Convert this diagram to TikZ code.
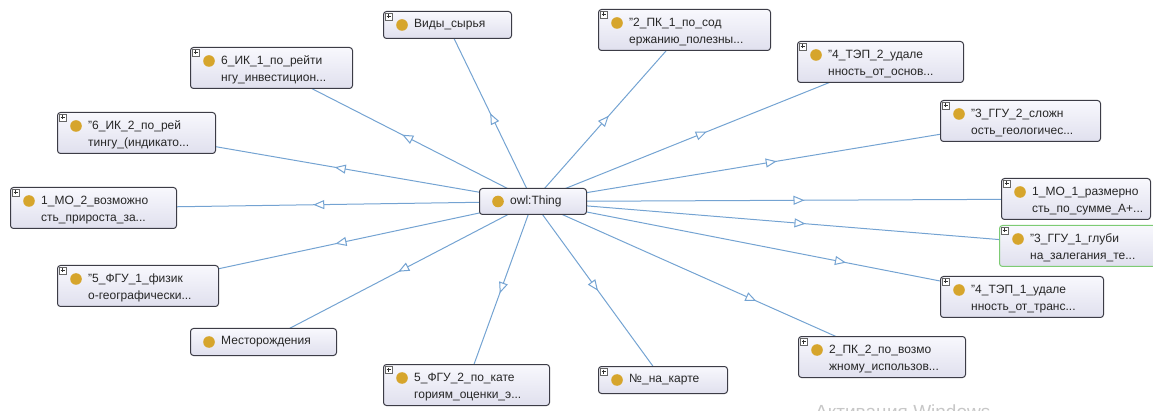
\documentclass[tikz,border=0pt]{standalone}
\usepackage{fontspec}
\setmainfont{Liberation Sans}
\usetikzlibrary{arrows.meta,decorations.markings,backgrounds,calc}
\definecolor{edgeblue}{HTML}{74A3D2}
\definecolor{boxborder}{HTML}{3C3C46}
\definecolor{owlyellow}{HTML}{D6A52C}
\definecolor{boxtop}{HTML}{F8F8FD}
\definecolor{boxbot}{HTML}{E0E0EE}
\definecolor{greenborder}{HTML}{7DCB74}
\tikzset{
  clsbox/.style={draw=boxborder, line width=1pt, rounded corners=3pt, top color=boxtop, bottom color=boxbot, inner sep=0pt},
  clstext/.style={inner sep=0pt, align=left, font=\fontsize{12}{17}\selectfont, text=black!85},
  isa/.style={draw=edgeblue, line width=1pt, postaction={decorate},
    decoration={markings, mark=at position #1 with {\arrow{Triangle[length=11pt,width=9pt,fill=white]}}}},
  isa/.default=0.5,
  plusbox/.style={draw=black!60, fill=white, line width=0.6pt},
  plussign/.style={draw=black!80, line width=0.7pt}
}
\newcommand\plusmark[1]{%
  \draw[plusbox] ($(#1.north west)+(2,2)$) rectangle +(7,7);
  \draw[plussign] ($(#1.north west)+(3.5,5.5)$) -- +(4,0);
  \draw[plussign] ($(#1.north west)+(5.5,3.5)$) -- +(0,4);
}
% name, x, y, width, line1, line2, extra style
\newcommand\twoline[7][]{%
  \node[clsbox,#1,anchor=north west,minimum width=#5pt,minimum height=41pt] (#2) at (#3,#4) {};
  \node[clstext,anchor=west] (#2t) at ($(#2.west)+(31,2)$) {#6\\#7};
  \fill[owlyellow] ($(#2.north west)+(19,14)$) circle (5.8);
  \plusmark{#2}
}
\newcommand\oneline[6][]{%
  \node[clsbox,anchor=north west,minimum width=#5pt,minimum height=27pt] (#2) at (#3,#4) {};
  \node[clstext,anchor=west] (#2t) at ($(#2.west)+(31,0)$) {#6};
  \fill[owlyellow] ($(#2.west)+(19,0)$) circle (5.8);
  #1
}
\begin{document}
\begin{tikzpicture}[x=1pt,y=-1pt]
\useasboundingbox (0,0) rectangle (1153,411);

% central node
\node[clsbox,anchor=north west,minimum width=107pt,minimum height=26pt] (thing) at (479,188) {};
\node[clstext,anchor=west] (thingt) at ($(thing.west)+(31,0)$) {owl:Thing};
\fill[owlyellow] ($(thing.west)+(19,0)$) circle (5.8);

% outer classes
\oneline[\plusmark{vid}]{vid}{383}{11}{128}{Виды\_сырья}
\twoline{pk1}{598}{9}{172}{"2\_ПК\_1\_по\_сод}{ержанию\_полезны...}
\twoline{tep2}{797}{41}{166}{"4\_ТЭП\_2\_удале}{нность\_от\_основ...}
\twoline{ggu2}{940}{100}{160}{"3\_ГГУ\_2\_сложн}{ость\_геологичес...}
\twoline{mo1}{1001}{178}{149}{1\_МО\_1\_размерно}{сть\_по\_сумме\_А+...}
\twoline[draw=greenborder]{ggu1}{999}{225}{157}{"3\_ГГУ\_1\_глуби}{на\_залегания\_те...}
\twoline{tep1}{940}{276}{163}{"4\_ТЭП\_1\_удале}{нность\_от\_транс...}
\twoline{pk2}{798}{336}{167}{2\_ПК\_2\_по\_возмо}{жному\_использов...}
\oneline[\plusmark{num}]{num}{598}{366}{129}{№\_на\_карте}
\twoline{fgu2}{383}{364}{166}{5\_ФГУ\_2\_по\_кате}{гориям\_оценки\_э...}
\oneline{mest}{190}{328}{146}{Месторождения}
\twoline{fgu1}{57}{265}{161}{"5\_ФГУ\_1\_физик}{о-географически...}
\twoline{mo2}{10}{187}{166}{1\_МО\_2\_возможно}{сть\_прироста\_за...}
\twoline{ik2}{57}{112}{158}{"6\_ИК\_2\_по\_рей}{тингу\_(индикато...}
\twoline{ik1}{190}{47}{162}{6\_ИК\_1\_по\_рейти}{нгу\_инвестицион...}

% connectors
\begin{scope}[on background layer]
\foreach \n in {vid,pk1,tep2,ggu2,mo1,ggu1,num,fgu2,mest,fgu1,mo2,ik2,ik1}
  \draw[isa] (thing.center) -- (\n.center);
\draw[isa=0.64] (thing.center) -- (tep1.center);
\draw[isa=0.64] (thing.center) -- (pk2.center);
\end{scope}

% partially visible watermark
\begin{scope}
\clip (0,0) rectangle (1153,411);
\node[anchor=base west,inner sep=0pt,font=\fontsize{19}{19}\selectfont,text=black!22] (wm) at (815,418) {Активация Windows};
\end{scope}
\end{tikzpicture}
\end{document}
